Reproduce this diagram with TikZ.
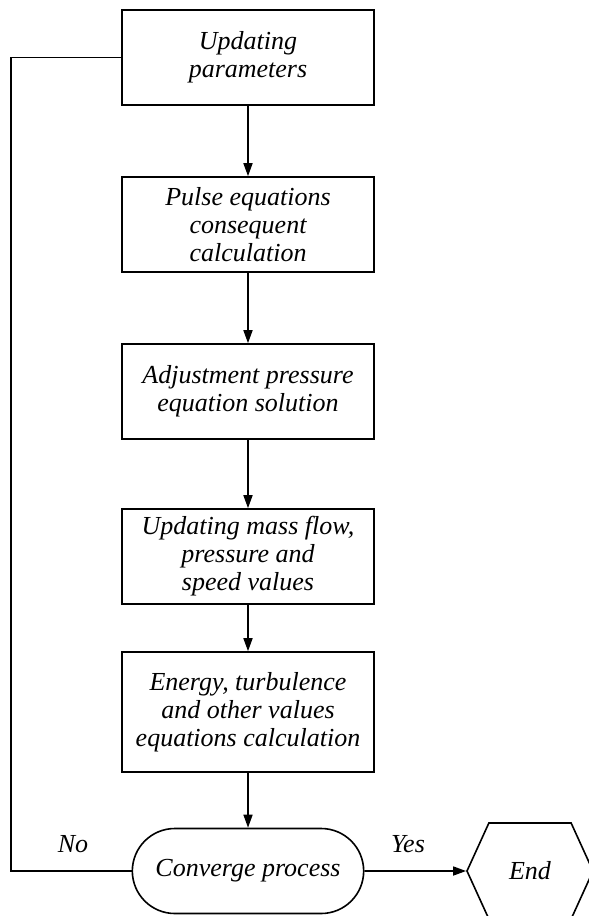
\documentclass[tikz,border=0pt]{standalone}
\usepackage{fontspec}
\setmainfont{Liberation Serif}
\usetikzlibrary{arrows.meta, shapes.misc, shapes.symbols}

\tikzset{
	txtfont/.style={font=\fontsize{26}{28}\selectfont\itshape},
	stepbox/.style={rectangle, draw, line width=1.6pt, minimum width=252pt, minimum height=95pt, inner sep=2pt, align=center, txtfont},
	flow/.style={line width=1.6pt, -{Triangle[length=13pt,width=9pt]}}
}

\begin{document}
\begin{tikzpicture}[x=1pt,y=-1pt]
		\useasboundingbox (0,0) rectangle (589,916);
		\node[stepbox] (upd) at (248,57.5) {Updating\\parameters};
		\node[stepbox] (pulse) at (248,224.5) {Pulse equations\\consequent\\calculation};
		\node[stepbox] (adj) at (248,391.5) {Adjustment pressure\\equation solution};
		\node[stepbox] (mass) at (248,556.5) {Updating mass flow,\\pressure and\\speed values};
		\node[stepbox, minimum height=120pt] (energy) at (248,712) {Energy, turbulence\\and other values\\equations calculation};
		 \node[rounded rectangle, draw, line width=1.6pt, minimum width=238pt, minimum height=85pt, txtfont] (conv) at (248,871) {Converge process};
		 \node[signal, signal to=west and east, signal pointer angle=131, draw, line width=1.6pt, minimum width=126pt, minimum height=96pt, txtfont] (end) at (530,871) {End};
		 \node[txtfont] (no) at (73,844) {No};
		 \node[txtfont] (yes) at (408,844) {Yes};
		 \coordinate (back) at (11,0);
		 \foreach \a/\b in {upd/pulse, pulse/adj, adj/mass, mass/energy, energy/conv}
		 {\draw[flow] (\a) -- (\b);}
		 \draw[flow] (conv) -- (end);
		 \draw[line width=1.6pt] (conv.west) -- (conv.west -| back) |- (upd.west);
	\end{tikzpicture}
\end{document}
